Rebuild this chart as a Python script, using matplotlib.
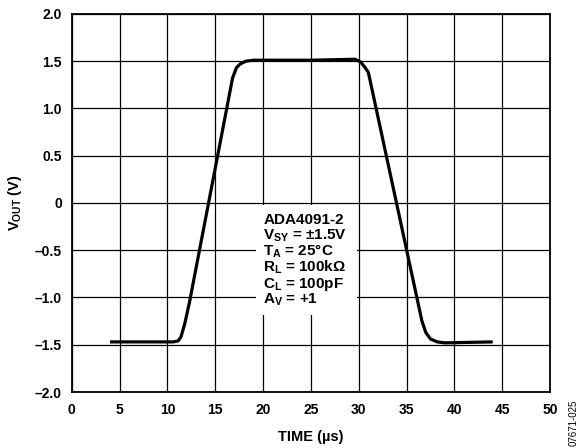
"""Output voltage step response of a unity-gain buffer."""

import matplotlib
matplotlib.use("Agg")
import matplotlib.pyplot as plt
from matplotlib.patches import Rectangle

plt.rcParams["font.family"] = ["Liberation Sans", "DejaVu Sans"]
plt.rcParams["font.weight"] = "bold"
plt.rcParams["mathtext.fontset"] = "custom"
plt.rcParams["mathtext.rm"] = "Liberation Sans:bold"
plt.rcParams["mathtext.it"] = "Liberation Sans:bold"
plt.rcParams["mathtext.bf"] = "Liberation Sans:bold"
plt.rcParams["mathtext.default"] = "rm"

# waveform vertices (time in us, output in V)
time_us = [4.0, 10.6, 11.1, 11.4, 11.8, 12.3, 16.8, 17.2, 17.6, 18.2, 19.0, 20.0,
           25.0, 29.6, 30.2, 30.6, 31.0, 36.6, 37.0, 37.5, 38.2, 39.0, 44.0]
vout_v = [-1.47, -1.47, -1.46, -1.42, -1.28, -1.05, 1.32, 1.43, 1.47, 1.50, 1.51, 1.51,
          1.51, 1.52, 1.49, 1.44, 1.38, -1.25, -1.37, -1.44, -1.47, -1.48, -1.47]

x_ticks = [0, 5, 10, 15, 20, 25, 30, 35, 40, 45, 50]
y_ticks = [-2.0, -1.5, -1.0, -0.5, 0.0, 0.5, 1.0, 1.5, 2.0]
y_tick_labels = ["–2.0", "–1.5", "–1.0", "–0.5", "0", "0.5", "1.0", "1.5", "2.0"]

conditions = [
    "ADA4091-2",
    "V$_{SY}$ = ±1.5V",
    "T$_{A}$ = 25°C",
    "R$_{L}$ = 100kΩ",
    "C$_{L}$ = 100pF",
    "A$_{V}$ = +1",
]

fig = plt.figure(figsize=(5.84, 4.48), dpi=100)
ax = fig.add_axes([0.123, 0.125, 0.819, 0.844])

ax.plot(time_us, vout_v, color="black", lw=2.3, solid_joinstyle="round",
        solid_capstyle="butt", zorder=3)

ax.set_xlim(0, 50)
ax.set_ylim(-2.0, 2.0)
ax.set_xticks(x_ticks)
ax.set_yticks(y_ticks)
ax.set_yticklabels(y_tick_labels)
ax.tick_params(axis="y", length=0, labelsize=10, pad=7)
ax.tick_params(axis="x", length=0, labelsize=10, pad=8)
for lbl in ax.get_xticklabels() + ax.get_yticklabels():
    lbl.set_fontweight("bold")
ax.grid(True, color="black", lw=0.9, zorder=1)
for sp in ax.spines.values():
    sp.set_linewidth(1.3)
    sp.set_zorder(5)

ax.set_xlabel("TIME (µs)", fontsize=10.5, fontweight="bold", labelpad=9)
ax.set_ylabel("V$_{OUT}$ (V)", fontsize=10.5, fontweight="bold", labelpad=8)

# white panel behind the test conditions
ax.add_patch(Rectangle((19.3, -1.19), 10.5, 1.17, facecolor="white",
                       edgecolor="none", zorder=2))
line_step = 0.169
for i, line in enumerate(conditions):
    ax.text(20.0, -0.222 - i * line_step, line, fontsize=11, fontweight="bold",
            va="baseline", ha="left", zorder=4)

fig.text(0.99, 0.005, "07671-025", rotation=90, fontsize=7, fontweight="normal",
         ha="right", va="bottom")

fig.savefig("out.png", dpi=100)
